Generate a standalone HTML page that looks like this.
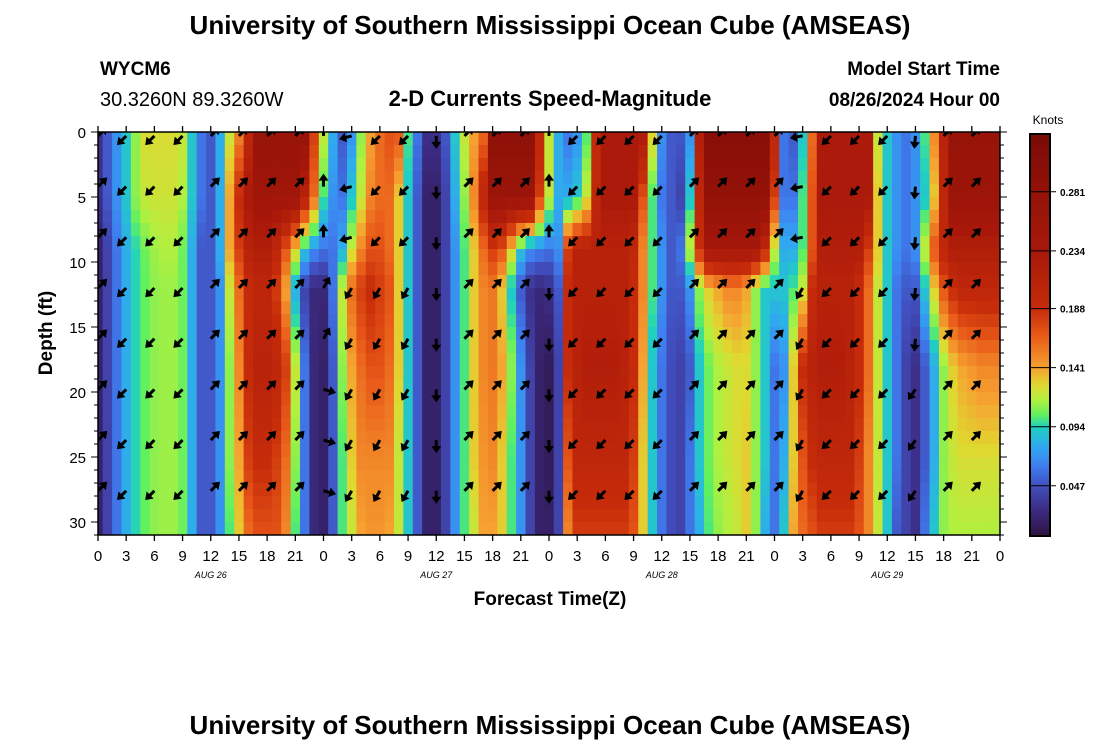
<!DOCTYPE html>
<html><head><meta charset="utf-8"><style>
body{margin:0;background:#fff;width:1100px;height:750px;overflow:hidden;font-family:"Liberation Sans",sans-serif}
svg text{font-family:"Liberation Sans",sans-serif}
</style></head><body>
<svg id="chart" width="1100" height="750" xmlns="http://www.w3.org/2000/svg">
<text x="550" y="34" text-anchor="middle" font-size="26" font-weight="bold">University of Southern Mississippi Ocean Cube (AMSEAS)</text>
<text x="100" y="75" font-size="19" font-weight="bold">WYCM6</text>
<text x="100" y="106" font-size="20">30.3260N  89.3260W</text>
<text x="550" y="106" text-anchor="middle" font-size="22" font-weight="bold">2-D Currents Speed-Magnitude</text>
<text x="1000" y="75" text-anchor="end" font-size="19" font-weight="bold">Model Start Time</text>
<text x="1000" y="106" text-anchor="end" font-size="19" font-weight="bold">08/26/2024 Hour 00</text>
<text transform="translate(52,333) rotate(-90)" text-anchor="middle" font-size="19" font-weight="bold">Depth (ft)</text>
<text x="550" y="605" text-anchor="middle" font-size="19" font-weight="bold">Forecast Time(Z)</text>
<text x="550" y="734" text-anchor="middle" font-size="26" font-weight="bold">University of Southern Mississippi Ocean Cube (AMSEAS)</text>
<text x="1048" y="124" text-anchor="middle" font-size="12">Knots</text>
<defs><clipPath id="plotclip"><rect x="98" y="132" width="902" height="403"/></clipPath></defs>
<g id="heat" clip-path="url(#plotclip)"></g>
<g id="arrows" clip-path="url(#plotclip)"></g>
<g id="axes"></g>
<g id="cbar"></g>
</svg>
<script>
const depthLevels=[0,5,9,12,18,25,31];
const speedD0=[0.03,0.05,0.07,0.09,0.11,0.125,0.125,0.125,0.125,0.12,0.09,0.06,0.05,0.08,0.12,0.15,0.2,0.27,0.27,0.27,0.27,0.27,0.27,0.18,0.12,0.08,0.05,0.07,0.11,0.14,0.16,0.17,0.17,0.1,0.06,0.03,0.03,0.05,0.09,0.12,0.14,0.16,0.29,0.29,0.29,0.29,0.29,0.2,0.12,0.08,0.06,0.07,0.1,0.19,0.23,0.23,0.23,0.23,0.23,0.13,0.07,0.05,0.05,0.07,0.22,0.3,0.3,0.3,0.3,0.3,0.3,0.3,0.2,0.06,0.05,0.09,0.16,0.23,0.23,0.23,0.23,0.23,0.23,0.12,0.09,0.07,0.06,0.07,0.1,0.15,0.21,0.27,0.27,0.27,0.27,0.27,0.27];
const speedD5=[0.03,0.05,0.07,0.09,0.11,0.12,0.122,0.122,0.122,0.115,0.09,0.06,0.05,0.08,0.14,0.19,0.23,0.25,0.25,0.25,0.25,0.25,0.21,0.16,0.1,0.07,0.06,0.09,0.12,0.15,0.16,0.16,0.13,0.09,0.05,0.02,0.02,0.04,0.08,0.11,0.15,0.2,0.26,0.26,0.26,0.26,0.26,0.18,0.12,0.08,0.08,0.09,0.12,0.2,0.23,0.23,0.23,0.23,0.17,0.1,0.06,0.05,0.04,0.09,0.2,0.28,0.28,0.28,0.28,0.28,0.28,0.28,0.18,0.06,0.06,0.1,0.17,0.23,0.23,0.23,0.23,0.23,0.23,0.13,0.09,0.07,0.06,0.07,0.09,0.13,0.2,0.26,0.26,0.26,0.26,0.26,0.26];
const speedD9=[0.02,0.04,0.06,0.08,0.095,0.105,0.112,0.115,0.115,0.105,0.08,0.05,0.05,0.08,0.14,0.18,0.21,0.22,0.22,0.2,0.17,0.13,0.09,0.07,0.06,0.06,0.08,0.12,0.15,0.17,0.17,0.16,0.13,0.09,0.05,0.02,0.02,0.04,0.07,0.1,0.13,0.16,0.18,0.17,0.13,0.09,0.07,0.065,0.06,0.07,0.18,0.21,0.21,0.21,0.21,0.21,0.21,0.2,0.15,0.1,0.07,0.05,0.06,0.12,0.19,0.24,0.24,0.24,0.24,0.24,0.24,0.2,0.12,0.08,0.08,0.1,0.17,0.22,0.22,0.22,0.22,0.22,0.18,0.13,0.09,0.07,0.06,0.07,0.12,0.17,0.2,0.22,0.22,0.22,0.22,0.22,0.22];
const speedD12=[0.02,0.04,0.06,0.08,0.095,0.103,0.11,0.112,0.112,0.105,0.08,0.05,0.05,0.07,0.12,0.16,0.19,0.2,0.2,0.18,0.14,0.08,0.04,0.025,0.025,0.06,0.12,0.16,0.18,0.19,0.18,0.17,0.13,0.09,0.05,0.02,0.02,0.04,0.07,0.1,0.13,0.15,0.155,0.13,0.09,0.05,0.03,0.025,0.03,0.05,0.19,0.21,0.21,0.21,0.21,0.21,0.21,0.19,0.15,0.1,0.07,0.05,0.05,0.07,0.11,0.13,0.14,0.15,0.15,0.14,0.11,0.09,0.09,0.09,0.1,0.12,0.19,0.21,0.21,0.21,0.21,0.19,0.16,0.12,0.09,0.06,0.05,0.05,0.09,0.13,0.17,0.19,0.2,0.2,0.2,0.2,0.2];
const speedD18=[0.02,0.04,0.06,0.08,0.095,0.103,0.11,0.112,0.112,0.105,0.08,0.05,0.05,0.07,0.11,0.15,0.19,0.21,0.21,0.2,0.18,0.12,0.06,0.025,0.02,0.05,0.11,0.14,0.16,0.17,0.17,0.16,0.13,0.09,0.05,0.02,0.02,0.04,0.07,0.1,0.13,0.15,0.155,0.14,0.11,0.07,0.04,0.02,0.015,0.04,0.19,0.21,0.22,0.22,0.22,0.22,0.21,0.19,0.14,0.09,0.06,0.045,0.04,0.05,0.09,0.105,0.115,0.12,0.125,0.125,0.11,0.09,0.06,0.07,0.13,0.19,0.21,0.22,0.22,0.22,0.21,0.19,0.16,0.12,0.09,0.06,0.04,0.03,0.05,0.08,0.11,0.13,0.14,0.145,0.15,0.15,0.15];
const speedD25=[0.02,0.04,0.06,0.08,0.095,0.103,0.11,0.112,0.112,0.105,0.08,0.05,0.05,0.07,0.11,0.14,0.18,0.19,0.19,0.18,0.16,0.11,0.06,0.025,0.02,0.05,0.1,0.13,0.15,0.15,0.15,0.15,0.12,0.09,0.05,0.02,0.02,0.04,0.07,0.1,0.13,0.145,0.15,0.13,0.1,0.07,0.04,0.02,0.015,0.04,0.17,0.2,0.2,0.2,0.2,0.2,0.2,0.18,0.13,0.09,0.06,0.045,0.04,0.06,0.09,0.105,0.115,0.12,0.125,0.13,0.11,0.09,0.06,0.08,0.13,0.17,0.19,0.2,0.2,0.2,0.2,0.18,0.15,0.12,0.09,0.06,0.04,0.03,0.05,0.08,0.11,0.12,0.125,0.125,0.125,0.125,0.125];
const speedD31=[0.02,0.04,0.06,0.08,0.095,0.103,0.11,0.112,0.112,0.105,0.08,0.05,0.05,0.07,0.1,0.13,0.16,0.17,0.17,0.17,0.15,0.1,0.06,0.025,0.02,0.05,0.1,0.12,0.14,0.145,0.145,0.14,0.12,0.09,0.05,0.02,0.02,0.04,0.07,0.1,0.12,0.14,0.14,0.13,0.1,0.07,0.04,0.02,0.02,0.04,0.15,0.18,0.18,0.18,0.18,0.18,0.18,0.17,0.13,0.09,0.06,0.045,0.04,0.06,0.08,0.1,0.11,0.115,0.12,0.13,0.11,0.08,0.06,0.09,0.14,0.16,0.17,0.18,0.18,0.18,0.18,0.17,0.15,0.12,0.09,0.05,0.04,0.03,0.06,0.09,0.11,0.115,0.115,0.115,0.115,0.115,0.115];
const speedLevels=[speedD0,speedD5,speedD9,speedD12,speedD18,speedD25,speedD31];
const arrowHours=[0,3,6,9,12,15,18,21,24,27,30,33,36,39,42,45,48,51,54,57,60,63,66,69,72,75,78,81,84,87,90,93,96];
const arrowDepths=[0.3,4.2,8.1,12.0,15.9,19.8,23.7,27.6];
// directions in degrees (screen: 0 = right, 90 = down), for depth rows 0-2, 3-4, 5-7
const arrowDirUpper=[-45,135,135,135,-45,-45,-45,-45,-90,165,135,135,90,-45,-45,-45,-90,135,135,135,135,-45,-45,-45,-45,170,135,135,135,95,-45,-45,-45];
const arrowDirMid=[-45,135,135,135,-45,-45,-45,-45,-60,120,120,120,90,-45,-45,-45,90,135,135,135,135,-45,-45,-45,-45,120,135,135,135,95,-45,-45,-45];
const arrowDirLower=[-45,135,135,135,-45,-45,-45,-45,15,120,120,120,90,-45,-45,-45,90,135,135,135,135,-45,-45,-45,-45,120,135,135,135,125,-45,-45,-45];
const xTickLabels=["0","3","6","9","12","15","18","21","0","3","6","9","12","15","18","21","0","3","6","9","12","15","18","21","0","3","6","9","12","15","18","21","0"];
const dateLabels=["AUG 26","AUG 27","AUG 28","AUG 29"];
const yTickLabels=[0,5,10,15,20,25,30];
const cbarTicks=[0.047,0.094,0.141,0.188,0.234,0.281];

const X0=98,X1=1000,Y0=132,Y1=535,HMAX=96,DMAX=31;
const xs=h=>X0+(X1-X0)*h/HMAX;
const ys=d=>Y0+(Y1-Y0)*d/DMAX;
const cStops=[[0.007,"#2e1240"],[0.027,"#3b2a80"],[0.047,"#4150c0"],[0.063,"#3f7ef0"],[0.078,"#30a8f0"],[0.094,"#20d0c0"],[0.103,"#60f060"],[0.115,"#b0f040"],[0.127,"#e0d830"],[0.141,"#f6a030"],[0.167,"#e85818"],[0.188,"#c62c0a"],[0.234,"#a8180a"],[0.281,"#931208"],[0.327,"#7a0a08"]];
function hx(c){return [1,3,5].map(i=>parseInt(c.substr(i,2),16));}
function color(v){
  if(v<=cStops[0][0])return cStops[0][1];
  for(let i=1;i<cStops.length;i++){if(v<=cStops[i][0]){const a=hx(cStops[i-1][1]),b=hx(cStops[i][1]);const t=(v-cStops[i-1][0])/(cStops[i][0]-cStops[i-1][0]);return "rgb("+a.map((x,k)=>Math.round(x+(b[k]-x)*t)).join(",")+")";}}
  return cStops[cStops.length-1][1];
}
function valAt(h,d){
  for(let i=1;i<depthLevels.length;i++){if(d<=depthLevels[i]){const t=(d-depthLevels[i-1])/(depthLevels[i]-depthLevels[i-1]);return speedLevels[i-1][h]*(1-t)+speedLevels[i][h]*t;}}
  return speedLevels[speedLevels.length-1][h];
}
const NS="http://www.w3.org/2000/svg";
function mk(tag,attrs,parent){const e=document.createElementNS(NS,tag);for(const k in attrs)e.setAttribute(k,attrs[k]);parent.appendChild(e);return e;}
const heat=document.getElementById("heat");
for(let h=0;h<=HMAX;h++){
  for(let r=0;r<DMAX;r++){
    const c=mk("rect",{x:xs(h-0.5),y:ys(r),width:xs(1)-X0+0.6,height:ys(1)-Y0+0.6,fill:color(valAt(h,r+0.5))},heat);
    
    
  }
}
const ag=document.getElementById("arrows");
arrowHours.forEach((h,i)=>{
  arrowDepths.forEach((d,j)=>{
    const dir=j<3?arrowDirUpper[i]:(j<5?arrowDirMid[i]:arrowDirLower[i]);
    const g=mk("g",{transform:"translate("+xs(h)+","+ys(d)+") rotate("+dir+")"},ag);
    
    
    mk("path",{d:"M0,0 L8,0",stroke:"#000","stroke-width":3},g);
    mk("path",{d:"M13,0 L6,-5 L6,5 Z",fill:"#000"},g);
  });
});
const ax=document.getElementById("axes");
const fr=mk("rect",{x:X0,y:Y0,width:X1-X0,height:Y1-Y0,fill:"none",stroke:"#000","stroke-width":1.5},ax);


xTickLabels.forEach((l,i)=>{
  const h=i*3,x=xs(h);
  mk("line",{x1:x,x2:x,y1:Y0-6,y2:Y0,stroke:"#000","stroke-width":1.3},ax);
  mk("line",{x1:x,x2:x,y1:Y1,y2:Y1+6,stroke:"#000","stroke-width":1.3},ax);
  const t=mk("text",{x:x,y:Y1+26,"text-anchor":"middle","font-size":15},ax);
  t.textContent=l;
  
  
});
dateLabels.forEach((l,i)=>{
  const t=mk("text",{x:xs(12+24*i),y:Y1+43,"text-anchor":"middle","font-size":9,"font-style":"italic","font-family":"Liberation Mono, monospace"},ax);
  t.textContent=l;
  
  
});
for(let d=0;d<=DMAX;d++){
  const y=ys(d),L=d%5===0?7:4;
  mk("line",{x1:X0-L,x2:X0,y1:y,y2:y,stroke:"#000","stroke-width":1},ax);
  mk("line",{x1:X1,x2:X1+L,y1:y,y2:y,stroke:"#000","stroke-width":1},ax);
}
yTickLabels.forEach(v=>{
  const t=mk("text",{x:X0-12,y:ys(v)+6,"text-anchor":"end","font-size":15},ax);
  t.textContent=v;
  
  
});
const cb=document.getElementById("cbar");
const CB0=134,CB1=536,VMIN=0.007,VMAX=0.327;
const cy=v=>CB1-(CB1-CB0)*(v-VMIN)/(VMAX-VMIN);
for(let y=CB0;y<CB1;y++){
  const v=VMIN+(VMAX-VMIN)*(CB1-y-0.5)/(CB1-CB0);
  const s=mk("rect",{x:1030,y:y,width:20,height:1.2,fill:color(v)},cb);
  
  
}
const cbf=mk("rect",{x:1030,y:CB0,width:20,height:CB1-CB0,fill:"none",stroke:"#000","stroke-width":2},cb);


cbarTicks.forEach(v=>{
  const y=cy(v);
  mk("line",{x1:1030,x2:1056,y1:y,y2:y,stroke:"#000","stroke-width":1},cb);
  const t=mk("text",{x:1060,y:y+4,"font-size":10,"font-weight":"bold"},cb);
  t.textContent=v.toFixed(3);
  
  
});
</script>
</body></html>
